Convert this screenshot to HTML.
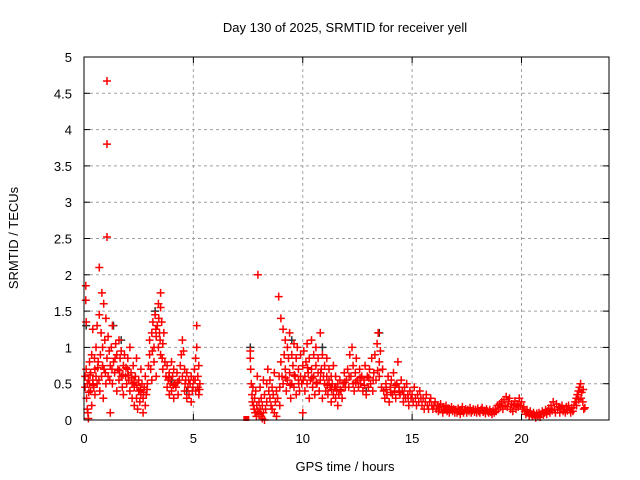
<!DOCTYPE html>
<html><head><meta charset="utf-8"><style>
html,body{margin:0;padding:0;background:#fff;}
svg{display:block;font-family:"Liberation Sans",Arial,sans-serif;}
</style></head><body>
<svg id="chart" width="640" height="480" viewBox="0 0 640 480">
<rect width="640" height="480" fill="#fff"/>
<text x="345" y="32" text-anchor="middle" font-size="13">Day 130 of 2025, SRMTID for receiver yell</text>
<text x="0" y="0" transform="translate(18,238) rotate(-90)" text-anchor="middle" font-size="13">SRMTID / TECUs</text>
<text x="345" y="471" text-anchor="middle" font-size="13">GPS time / hours</text>
<g id="grid"></g>
<g id="ticks"></g>
<g id="marks"></g>
<rect x="84" y="57" width="525" height="363" fill="none" stroke="#000" stroke-width="1"/>
</svg>
<script>
const xTicks = [0,5,10,15,20];
const yTicks = [0,0.5,1,1.5,2,2.5,3,3.5,4,4.5,5];
const yTickLabels = ["0","0.5","1","1.5","2","2.5","3","3.5","4","4.5","5"];
const blackPoints = [[1.35,1.3],[3.25,1.5],[13.5,1.2],[10.9,1.0],[0.1,1.3],[4.7,0.4],[9.5,1.1],[12.9,0.4],[7.6,1.0],[1.7,1.1],[4.0,0.55],[11.3,0.45]];
const squarePoints = [[7.42,0.0]];
const redPoints = [
[0.05,0.45],[0.05,0.6],[0.08,1.85],[0.08,1.65],[0.1,1.35],[0.1,0.7],[0.12,0.3],[0.15,0.15],[0.18,0.1],[0.2,0.02],[0.2,0.55],[0.25,0.5],[0.25,0.8],[0.3,0.4],[0.3,0.65],[0.35,0.9],[0.35,0.2],[0.4,0.55],[0.4,1.25],[0.45,0.45],[0.5,0.7],[0.5,0.35],[0.55,0.6],[0.55,1.0],[0.6,0.5],[0.6,1.3],[0.65,0.8],[0.7,1.45],[0.7,2.1],[0.72,0.4],[0.75,0.9],[0.78,1.2],[0.8,0.6],[0.82,1.75],[0.85,1.0],[0.88,0.3],[0.9,1.6],[0.92,0.7],[0.95,1.1],[1.0,1.4],[1.0,0.5],[1.05,4.67],[1.05,3.8],[1.05,2.52],[1.05,0.85],[1.1,1.15],[1.1,0.6],[1.15,0.95],[1.2,0.1],[1.2,0.75],[1.25,1.0],[1.3,0.5],[1.3,1.3],[1.35,0.8],[1.4,0.65],[1.45,1.05],[1.5,0.4],[1.5,0.9],
[0.15,0.5],[0.28,0.62],[0.42,0.48],[0.48,0.85],[0.62,0.72],[0.68,0.55],[0.85,0.75],[0.98,0.65],[1.18,0.55],[1.28,0.7],[1.42,0.85],[0.22,0.38],
[1.55,0.7],[1.6,0.55],[1.6,1.1],[1.65,0.85],[1.7,0.6],[1.7,0.95],[1.75,0.45],[1.8,0.75],[1.8,0.35],[1.85,0.9],[1.9,0.6],[1.95,0.5],[2.0,0.7],[2.0,0.85],[2.05,0.55],[2.1,0.4],[2.1,1.0],[2.15,0.65],[2.2,0.3],[2.2,0.5],[2.25,0.75],[2.3,0.2],[2.3,0.45],[2.35,0.6],[2.4,0.3],[2.4,0.85],[2.45,0.15],[2.5,0.4],[2.5,0.55],[2.55,0.25],[2.6,0.35],[2.6,0.7],[2.65,0.5],[2.7,0.1],[2.7,0.3],[2.75,0.45],[2.8,0.6],[2.8,0.2],[2.85,0.35],[2.9,0.5],[2.95,0.75],
[1.62,0.68],[1.78,0.62],[1.92,0.72],[2.02,0.62],[2.18,0.58],[2.28,0.52],[2.42,0.48],[2.58,0.42],[2.72,0.38],[2.88,0.42],
[3.0,0.9],[3.0,1.1],[3.05,0.7],[3.1,1.2],[3.1,0.55],[3.15,1.35],[3.2,1.0],[3.2,0.8],[3.25,1.45],[3.3,1.15],[3.3,0.6],[3.35,1.3],[3.4,1.0],[3.4,1.6],[3.45,1.2],[3.5,1.55],[3.5,1.75],[3.5,0.9],[3.55,1.35],[3.6,1.05],[3.6,0.7],[3.65,1.2],[3.7,0.8],
[3.12,0.95],[3.28,1.25],[3.42,1.4],[3.48,1.1],[3.58,0.85],
[3.75,0.6],[3.8,0.45],[3.8,0.75],[3.85,0.55],[3.9,0.35],[3.9,0.65],[3.95,0.5],[4.0,0.8],[4.0,0.4],[4.05,0.6],[4.1,0.3],[4.1,0.7],[4.15,0.5],[4.2,0.45],[4.25,0.65],[4.3,0.35],[4.35,0.55],[4.4,0.75],[4.45,0.9],[4.5,1.1],[4.5,0.6],[4.55,0.95],[4.6,0.7],[4.6,0.4],[4.65,0.55],[4.7,0.3],[4.7,0.65],[4.75,0.45],[4.8,0.35],[4.85,0.5],[4.9,0.25],[4.9,0.6],[4.95,0.4],[5.0,0.55],[5.05,0.7],[5.1,0.85],[5.1,0.4],[5.15,1.0],[5.15,1.3],[5.2,0.6],[5.2,0.45],[5.25,0.35],[5.25,0.75],[5.3,0.5],
[3.88,0.58],[4.08,0.48],[4.28,0.52],[4.62,0.5],[4.78,0.55],[4.98,0.45],[5.08,0.55],[5.28,0.42],
[7.6,0.95],[7.6,0.85],[7.62,0.7],[7.65,0.5],[7.68,0.35],[7.7,0.25],[7.72,0.45],[7.75,0.2],[7.78,0.15],[7.8,0.3],[7.82,0.1],[7.85,0.4],[7.88,0.05],[7.9,0.2],[7.92,0.6],[7.95,2.0],[7.95,0.12],[8.0,0.08],[8.0,0.25],[8.05,0.15],[8.05,0.45],[8.1,0.05],[8.1,0.3],[8.15,0.02],[8.15,0.2],[8.2,0.1],[8.2,0.55],[8.25,0.0],[8.25,0.35],[8.3,0.15],[8.35,0.5],[8.35,0.25],[8.4,0.7],[8.45,0.4],[8.5,0.55],[8.5,0.3],
[8.55,0.2],[8.6,0.15],[8.6,0.45],[8.65,0.35],[8.7,0.1],[8.7,0.65],[8.75,0.25],[8.8,0.05],[8.8,0.4],[8.85,0.3],[8.9,1.7],[8.92,0.6],[8.95,0.45],[8.95,0.2],
[9.0,1.4],[9.0,0.8],[9.05,0.6],[9.1,1.25],[9.1,0.5],[9.15,0.9],[9.2,1.1],[9.2,0.7],[9.25,0.4],[9.3,1.0],[9.3,0.55],[9.35,0.85],[9.4,1.2],[9.4,0.65],[9.45,0.3],[9.5,0.9],[9.5,0.5],[9.55,0.75],[9.6,1.05],[9.6,0.45],[9.65,0.6],[9.7,0.85],[9.7,0.35],[9.75,1.0],[9.8,0.55],[9.8,0.7],[9.85,0.4],[9.9,0.9],[9.9,0.6],[9.95,0.5],[10.0,0.75],[10.0,0.1],[10.05,0.95],[10.1,0.6],[10.1,0.4],[10.15,0.8],[10.2,1.05],[10.2,0.5],[10.25,0.65],[10.3,0.3],[10.3,0.85],[10.35,0.55],[10.4,0.7],[10.4,1.1],[10.45,0.45],[10.5,0.9],[10.5,0.6],[10.55,0.35],[10.6,0.75],[10.6,1.0],[10.65,0.5],[10.7,0.65],[10.7,0.85],[10.75,0.4],[10.8,1.2],[10.8,0.55],[10.85,0.7],[10.9,0.3],[10.9,0.9],[10.95,0.6],
[9.22,0.58],[9.42,0.48],[9.62,0.62],[9.82,0.5],[10.02,0.55],[10.22,0.72],[10.42,0.58],[10.62,0.52],[10.82,0.65],
[11.0,0.5],[11.0,0.75],[11.05,0.4],[11.1,0.6],[11.1,0.85],[11.15,0.35],[11.2,0.55],[11.2,0.7],[11.25,0.45],[11.3,0.25],[11.3,0.6],[11.35,0.5],[11.4,0.35],[11.4,0.75],[11.45,0.45],[11.5,0.3],[11.5,0.6],[11.55,0.4],[11.6,0.5],[11.6,0.2],[11.65,0.35],[11.7,0.55],[11.75,0.4],[11.8,0.3],[11.85,0.5],[11.9,0.65],[11.95,0.45],
[11.12,0.48],[11.32,0.42],[11.52,0.45],[11.72,0.42],[11.92,0.52],
[12.0,0.55],[12.05,0.7],[12.1,0.45],[12.15,0.9],[12.2,0.6],[12.25,1.0],[12.3,0.5],[12.3,0.75],[12.35,0.4],[12.4,0.65],[12.45,0.85],[12.5,0.55],[12.55,0.45],[12.6,0.7],[12.65,0.5],[12.7,0.6],[12.75,0.4],[12.8,0.55],[12.85,0.75],[12.9,0.35],[12.95,0.6],[13.0,0.45],[13.05,0.7],[13.1,0.5],[13.15,0.85],[13.2,0.4],[13.25,0.65],[13.3,0.9],[13.35,0.55],[13.4,1.05],[13.45,1.2],[13.5,0.8],[13.5,0.6],[13.55,0.95],[13.6,0.45],[13.65,0.7],
[12.12,0.6],[12.42,0.52],[12.62,0.58],[12.82,0.48],[13.02,0.58],[13.22,0.55],[13.42,0.68],
[13.7,0.4],[13.75,0.3],[13.8,0.5],[13.85,0.35],[13.9,0.6],[13.95,0.25],[14.0,0.45],[14.05,0.55],[14.1,0.35],[14.15,0.65],[14.2,0.4],[14.25,0.3],[14.3,0.5],[14.35,0.8],[14.4,0.45],[14.45,0.35],[14.5,0.55],[14.55,0.4],[14.6,0.25],[14.65,0.45],[14.7,0.3],[14.75,0.5],[14.8,0.35],[14.85,0.2],[14.9,0.4],[14.95,0.3],
[13.82,0.42],[14.02,0.38],[14.22,0.48],[14.42,0.38],[14.62,0.35],[14.82,0.3],
[15.0,0.35],[15.05,0.25],[15.1,0.45],[15.15,0.3],[15.2,0.2],[15.25,0.35],[15.3,0.25],[15.35,0.4],[15.4,0.3],[15.45,0.2],[15.5,0.3],[15.55,0.15],[15.6,0.25],[15.65,0.35],[15.7,0.2],[15.75,0.15],[15.8,0.25],[15.85,0.3],[15.9,0.2],[15.95,0.15],[16.0,0.2],[16.05,0.25],[16.1,0.15],[16.15,0.2],[16.2,0.12],[16.25,0.18],[16.3,0.22],[16.35,0.15],[16.4,0.1],[16.45,0.18],[16.5,0.14],[16.55,0.2],[16.6,0.12],[16.65,0.16],[16.7,0.1],[16.75,0.14],[16.8,0.18],[16.85,0.12],[16.9,0.15],[16.95,0.1],
[17.0,0.14],[17.05,0.1],[17.1,0.16],[17.15,0.12],[17.2,0.08],[17.25,0.14],[17.3,0.18],[17.35,0.1],[17.4,0.13],[17.45,0.15],[17.5,0.1],[17.55,0.14],[17.6,0.12],[17.65,0.17],[17.7,0.1],[17.75,0.13],[17.8,0.15],[17.85,0.11],[17.9,0.14],[17.95,0.1],[18.0,0.16],[18.05,0.12],[18.1,0.1],[18.15,0.14],[18.2,0.17],[18.25,0.11],[18.3,0.13],[18.35,0.09],[18.4,0.15],[18.45,0.12],[18.5,0.1],[18.55,0.14],[18.6,0.11],[18.65,0.08],[18.7,0.13],[18.75,0.1],[18.8,0.15],[18.85,0.12],[18.9,0.2],[18.95,0.15],
[19.0,0.22],[19.05,0.18],[19.1,0.25],[19.15,0.15],[19.2,0.28],[19.25,0.2],[19.3,0.32],[19.35,0.18],[19.4,0.25],[19.45,0.3],[19.5,0.15],[19.55,0.22],[19.6,0.12],[19.65,0.2],[19.7,0.26],[19.75,0.15],[19.8,0.22],[19.85,0.18],[19.9,0.3],[19.95,0.2],[20.0,0.25],[20.05,0.15],[20.1,0.18],
[20.15,0.12],[20.2,0.08],[20.25,0.14],[20.3,0.1],[20.35,0.06],[20.4,0.12],[20.45,0.08],[20.5,0.05],[20.55,0.1],[20.6,0.07],[20.65,0.03],[20.7,0.09],[20.75,0.06],[20.8,0.1],[20.85,0.04],[20.9,0.08],[20.95,0.12],[21.0,0.07],
[21.05,0.1],[21.1,0.14],[21.15,0.08],[21.2,0.12],[21.25,0.16],[21.3,0.1],[21.35,0.2],[21.4,0.13],[21.45,0.25],[21.5,0.15],[21.55,0.1],[21.6,0.22],[21.65,0.14],[21.7,0.18],[21.75,0.1],[21.8,0.16],[21.85,0.2],[21.9,0.12],[21.95,0.15],[22.0,0.1],[22.05,0.18],[22.1,0.13],[22.15,0.2],[22.2,0.15],[22.25,0.1],[22.3,0.17],[22.35,0.12],[22.4,0.2],
[22.45,0.25],[22.5,0.3],[22.52,0.2],[22.55,0.35],[22.6,0.4],[22.62,0.28],[22.65,0.45],[22.7,0.5],[22.72,0.3],[22.75,0.38],[22.8,0.25],[22.82,0.42],[22.85,0.15],[22.9,0.17]
];
const NS='http://www.w3.org/2000/svg';
const X0=84,X1=609,Y0=420,Y1=57,XMAX=24,YMAX=5;
function xs(v){return X0+(X1-X0)*v/XMAX;}
function ys(v){return Y0-(Y0-Y1)*v/YMAX;}
function mk(tag,attrs,parent){const e=document.createElementNS(NS,tag);for(const k in attrs)e.setAttribute(k,attrs[k]);parent.appendChild(e);return e;}
const grid=document.getElementById('grid'),ticks=document.getElementById('ticks'),marks=document.getElementById('marks');
yTicks.forEach((t,i)=>{
  const y=ys(t);
  if(t>0&&t<YMAX){const g=mk('line',{x1:X0,x2:X1,y1:y,y2:y,stroke:'#a0a0a0','stroke-dasharray':'3,3'},grid);
  
  }
  mk('line',{x1:X0,x2:X0+6,y1:y,y2:y,stroke:'#000'},ticks);
  mk('line',{x1:X1-6,x2:X1,y1:y,y2:y,stroke:'#000'},ticks);
  const tx=mk('text',{x:72,y:y+5,'text-anchor':'end','font-size':'13'},ticks);
  tx.textContent=yTickLabels[i];
  
  
});
xTicks.forEach(t=>{
  const x=xs(t);
  if(t>0){const g=mk('line',{x1:x,x2:x,y1:Y0,y2:Y1,stroke:'#a0a0a0','stroke-dasharray':'3,3'},grid);
  
  }
  mk('line',{x1:x,x2:x,y1:Y0,y2:Y0-6,stroke:'#000'},ticks);
  mk('line',{x1:x,x2:x,y1:Y1,y2:Y1+6,stroke:'#000'},ticks);
  const tx=mk('text',{x:x,y:443,'text-anchor':'middle','font-size':'13'},ticks);
  tx.textContent=String(t);
  
  
});
function plus(pts,color,name){
  let d='';
  pts.forEach(p=>{const x=xs(p[0]),y=ys(p[1]);d+=`M${(x-4).toFixed(1)} ${y.toFixed(1)}h8M${x.toFixed(1)} ${(y-4).toFixed(1)}v8`;});
  const path=mk('path',{d:d,stroke:color,'stroke-width':'1.5',fill:'none'},marks);
  
  
}
plus(blackPoints,'#333','black-series-points');
plus(redPoints,'#ff0000','red-series-points');
squarePoints.forEach(p=>{
  const r=mk('rect',{x:xs(p[0])-3,y:ys(p[1])-4,width:6,height:5,fill:'#ff0000'},marks);
  
  
});
</script>
</body></html>
